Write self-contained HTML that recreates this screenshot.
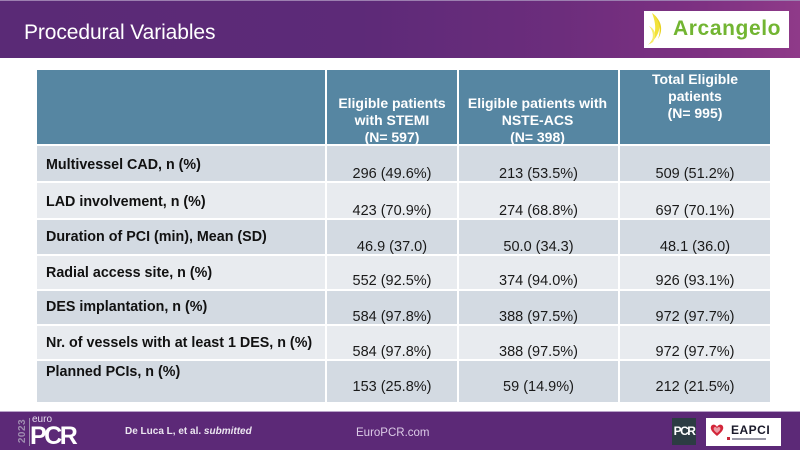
<!DOCTYPE html>
<html>
<head>
<meta charset="utf-8">
<style>
  html,body{margin:0;padding:0;}
  body{width:800px;height:450px;position:relative;overflow:hidden;background:#ffffff;font-family:"Liberation Sans",Arial,sans-serif;}
  .abs{position:absolute;}
  .band{left:0;top:0;width:800px;height:58px;background:linear-gradient(90deg,#5a2a76 0%,#5d2a78 45%,#6c2d7c 70%,#7e3182 88%,#8f3a89 100%);}
  .bandline{left:0;top:0;width:800px;height:1px;background:#9c7fb0;}
  .title{left:24px;top:17px;font-size:21px;color:#ffffff;line-height:32px;white-space:nowrap;letter-spacing:-0.1px;}
  .logo{left:644px;top:11px;width:145px;height:37px;background:#ffffff;}
  .logotxt{left:673px;top:16px;font-size:21px;font-weight:bold;color:#72b532;letter-spacing:0.6px;line-height:26px;white-space:nowrap;}
  .hdr{top:70px;height:74px;background:#5686a2;}
  .htxt{color:#ffffff;font-weight:bold;font-size:14px;line-height:17px;text-align:center;white-space:nowrap;}
  .lab{left:46px;font-size:14.3px;font-weight:bold;color:#111;line-height:16px;height:16px;white-space:nowrap;}
  .val{font-size:14.5px;color:#1a1a1a;line-height:16px;height:16px;text-align:center;white-space:nowrap;}
  .dark{background:#d3dae2;}
  .light{background:#e8ebef;}
  .foot{left:0;top:412px;width:800px;height:38px;background:#5c2977;}
  .footline{left:0;top:411px;width:800px;height:1px;background:#b9a3c9;}
</style>
</head>
<body>
  <div class="abs band"></div>
  <div class="abs bandline"></div>
  <div class="abs title">Procedural Variables</div>
  <div class="abs logo"></div>
  <svg class="abs" style="left:646px;top:12px" width="22" height="34" viewBox="0 0 22 34">
    <path d="M6 1 C14 6,16 16,10 25 C8 28,5 31,2 33 C9 26,12 16,6 1 Z" fill="#f2e23a"/>
    <path d="M3 14 C9 17,11 23,7 30 L4 32 C8 26,8 20,3 14 Z" fill="#f6ec6a"/>
    <path d="M9 4 C16 10,17 19,12 27 C15 19,14 11,9 4 Z" fill="#e8d21e"/>
  </svg>
  <div class="abs logotxt">Arcangelo</div>

  <div class="abs hdr" style="left:37px;width:288px;"></div>
  <div class="abs hdr" style="left:327px;width:130px;"></div>
  <div class="abs hdr" style="left:459px;width:159px;"></div>
  <div class="abs hdr" style="left:620px;width:150px;"></div>

  <div class="abs htxt" style="left:327px;width:130px;top:95px;">Eligible patients<br>with STEMI<br>(N= 597)</div>
  <div class="abs htxt" style="left:455px;width:165px;top:95px;">Eligible patients with<br>NSTE-ACS<br>(N= 398)</div>
  <div class="abs htxt" style="left:620px;width:150px;top:71px;">Total Eligible<br>patients<br>(N= 995)</div>

  <div class="abs dark" style="left:37px;top:146px;width:288px;height:35px;"></div>
  <div class="abs dark" style="left:327px;top:146px;width:130px;height:35px;"></div>
  <div class="abs dark" style="left:459px;top:146px;width:159px;height:35px;"></div>
  <div class="abs dark" style="left:620px;top:146px;width:150px;height:35px;"></div>
  <div class="abs light" style="left:37px;top:183px;width:288px;height:35px;"></div>
  <div class="abs light" style="left:327px;top:183px;width:130px;height:35px;"></div>
  <div class="abs light" style="left:459px;top:183px;width:159px;height:35px;"></div>
  <div class="abs light" style="left:620px;top:183px;width:150px;height:35px;"></div>
  <div class="abs dark" style="left:37px;top:220px;width:288px;height:34px;"></div>
  <div class="abs dark" style="left:327px;top:220px;width:130px;height:34px;"></div>
  <div class="abs dark" style="left:459px;top:220px;width:159px;height:34px;"></div>
  <div class="abs dark" style="left:620px;top:220px;width:150px;height:34px;"></div>
  <div class="abs light" style="left:37px;top:256px;width:288px;height:33px;"></div>
  <div class="abs light" style="left:327px;top:256px;width:130px;height:33px;"></div>
  <div class="abs light" style="left:459px;top:256px;width:159px;height:33px;"></div>
  <div class="abs light" style="left:620px;top:256px;width:150px;height:33px;"></div>
  <div class="abs dark" style="left:37px;top:291px;width:288px;height:33px;"></div>
  <div class="abs dark" style="left:327px;top:291px;width:130px;height:33px;"></div>
  <div class="abs dark" style="left:459px;top:291px;width:159px;height:33px;"></div>
  <div class="abs dark" style="left:620px;top:291px;width:150px;height:33px;"></div>
  <div class="abs light" style="left:37px;top:326px;width:288px;height:33px;"></div>
  <div class="abs light" style="left:327px;top:326px;width:130px;height:33px;"></div>
  <div class="abs light" style="left:459px;top:326px;width:159px;height:33px;"></div>
  <div class="abs light" style="left:620px;top:326px;width:150px;height:33px;"></div>
  <div class="abs dark" style="left:37px;top:361px;width:288px;height:41px;"></div>
  <div class="abs dark" style="left:327px;top:361px;width:130px;height:41px;"></div>
  <div class="abs dark" style="left:459px;top:361px;width:159px;height:41px;"></div>
  <div class="abs dark" style="left:620px;top:361px;width:150px;height:41px;"></div>

  <div class="abs lab" style="top:157px;">Multivessel CAD, n (%)</div>
  <div class="abs lab" style="top:194px;">LAD involvement, n (%)</div>
  <div class="abs lab" style="top:229px;">Duration of PCI (min), Mean (SD)</div>
  <div class="abs lab" style="top:265px;">Radial access site, n (%)</div>
  <div class="abs lab" style="top:299px;">DES implantation, n (%)</div>
  <div class="abs lab" style="top:335px;">Nr. of vessels with at least 1 DES, n (%)</div>
  <div class="abs lab" style="top:364px;">Planned PCIs, n (%)</div>

  <div class="abs val" style="left:327px;width:130px;top:166px;">296 (49.6%)</div>
  <div class="abs val" style="left:327px;width:130px;top:203px;">423 (70.9%)</div>
  <div class="abs val" style="left:327px;width:130px;top:239px;">46.9 (37.0)</div>
  <div class="abs val" style="left:327px;width:130px;top:273px;">552 (92.5%)</div>
  <div class="abs val" style="left:327px;width:130px;top:309px;">584 (97.8%)</div>
  <div class="abs val" style="left:327px;width:130px;top:344px;">584 (97.8%)</div>
  <div class="abs val" style="left:327px;width:130px;top:379px;">153 (25.8%)</div>

  <div class="abs val" style="left:459px;width:159px;top:166px;">213 (53.5%)</div>
  <div class="abs val" style="left:459px;width:159px;top:203px;">274 (68.8%)</div>
  <div class="abs val" style="left:459px;width:159px;top:239px;">50.0 (34.3)</div>
  <div class="abs val" style="left:459px;width:159px;top:273px;">374 (94.0%)</div>
  <div class="abs val" style="left:459px;width:159px;top:309px;">388 (97.5%)</div>
  <div class="abs val" style="left:459px;width:159px;top:344px;">388 (97.5%)</div>
  <div class="abs val" style="left:459px;width:159px;top:379px;">59 (14.9%)</div>

  <div class="abs val" style="left:620px;width:150px;top:166px;">509 (51.2%)</div>
  <div class="abs val" style="left:620px;width:150px;top:203px;">697 (70.1%)</div>
  <div class="abs val" style="left:620px;width:150px;top:239px;">48.1 (36.0)</div>
  <div class="abs val" style="left:620px;width:150px;top:273px;">926 (93.1%)</div>
  <div class="abs val" style="left:620px;width:150px;top:309px;">972 (97.7%)</div>
  <div class="abs val" style="left:620px;width:150px;top:344px;">972 (97.7%)</div>
  <div class="abs val" style="left:620px;width:150px;top:379px;">212 (21.5%)</div>

  <div class="abs footline"></div>
  <div class="abs foot"></div>
  <div class="abs" style="left:9px;top:425px;width:28px;height:12px;transform:rotate(-90deg);font-size:10px;font-weight:bold;color:#9f8db0;line-height:12px;text-align:center;letter-spacing:0.5px;">2023</div>
  <div class="abs" style="left:29px;top:418px;width:1px;height:28px;background:#9f8db0;"></div>
  <div class="abs" style="left:32px;top:414px;font-size:10px;color:#e6dcee;line-height:12px;">euro</div>
  <div class="abs" style="left:30px;top:423px;font-size:25px;font-weight:bold;color:#ffffff;line-height:26px;letter-spacing:-2.5px;">PCR</div>
  <div class="abs" style="left:125px;top:425px;font-size:10px;font-weight:bold;color:#ece6f1;line-height:14px;white-space:nowrap;">De Luca L, et al. <i>submitted</i></div>
  <div class="abs" style="left:356px;top:426px;font-size:11.5px;color:#dccbe7;line-height:14px;white-space:nowrap;">EuroPCR.com</div>

  <div class="abs" style="left:672px;top:418px;width:24px;height:27px;background:#2c3c43;"></div>
  <div class="abs" style="left:672px;top:424px;width:24px;font-size:12px;font-weight:bold;color:#ffffff;line-height:14px;text-align:center;letter-spacing:-1.5px;">PCR</div>
  <div class="abs" style="left:706px;top:418px;width:75px;height:28px;background:#ffffff;"></div>
  <svg class="abs" style="left:710px;top:423px" width="14" height="14" viewBox="0 0 14 14">
    <path d="M7 13 C2 9,0 6,1 3.5 C2 1,5.5 1,7 4 C8.5 1,12 1,13 3.5 C14 6,12 9,7 13 Z" fill="#d3263a"/>
    <path d="M7 10 C4 8,3 6,4 4.5 C5 3.5,6.5 4,7 5.5 C7.5 4,9 3.5,10 4.5 C11 6,10 8,7 10 Z" fill="#ffffff" opacity="0.55"/>
  </svg>
  <div class="abs" style="left:731px;top:423px;font-size:12px;font-weight:bold;color:#1a1a2a;line-height:14px;letter-spacing:0.5px;">EAPCI</div>
  <div class="abs" style="left:732px;top:438px;width:34px;height:2px;background:#9a9aa8;"></div>
  <div class="abs" style="left:727px;top:437px;width:3px;height:3px;background:#c8283a;"></div>
</body>
</html>
